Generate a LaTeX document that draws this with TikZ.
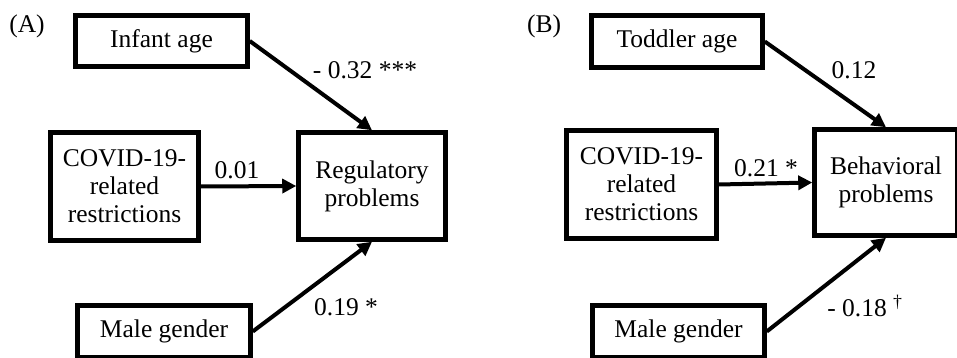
\documentclass[tikz,border=0pt]{standalone}
\usepackage{fontspec}
\setmainfont{Liberation Serif}
\usetikzlibrary{arrows.meta}
\begin{document}
\begin{tikzpicture}[x=1pt,y=-1pt,
  box/.style={draw, line width=4.5pt, inner sep=0pt, font=\fontsize{25.5}{28}\selectfont, align=center},
  lab/.style={font=\fontsize{25.5}{28}\selectfont, inner sep=0pt},
  arr/.style={line width=4pt, -{Triangle[length=14pt,width=14pt]}}]
\useasboundingbox (0,0) rectangle (957,358);
\clip (0,0) rectangle (957,358);
\fill[white] (0,0) rectangle (957,358);
% Panel A
\node[lab] (labA) at (27,26) {(A)};
\node[box, minimum width=172pt, minimum height=51pt] (infant) at (161.5,41) {Infant age};
\node[box, minimum width=148pt, minimum height=108pt] (covidA) at (124.5,186.5) {COVID-19-\\related\\restrictions};
\node[box, minimum width=147pt, minimum height=107pt] (reg) at (372,186) {Regulatory\\problems};
\node[box, minimum width=173pt, minimum height=52pt] (maleA) at (164,331.5) {Male gender};
\draw[arr] (infant.east) -- (reg.north);
\draw[arr] (covidA.east) -- (reg.west);
\draw[arr] (maleA.east) -- (reg.south);
\node[lab] (lA1) at (365,70) {- 0.32 ***};
\node[lab] (lA2) at (237,170) {0.01};
\node[lab] (lA3) at (346,307) {0.19 *};
% Panel B
\node[lab] (labB) at (544,26) {(B)};
\node[box, minimum width=171pt, minimum height=52pt] (toddler) at (677,41.5) {Toddler age};
\node[box, minimum width=150pt, minimum height=108pt] (covidB) at (641.5,184.5) {COVID-19-\\related\\restrictions};
\node[box, minimum width=143pt, minimum height=106pt] (beh) at (886,182.5) {Behavioral\\problems};
\node[box, minimum width=172pt, minimum height=52pt] (maleB) at (678.5,331.5) {Male gender};
\draw[arr] (toddler.east) -- (beh.north);
\draw[arr] (covidB.east) -- (beh.west);
\draw[arr] (maleB.east) -- (beh.south);
\node[lab] (lB1) at (854,70) {0.12};
\node[lab] (lB2) at (766,168) {0.21 *};
\node[lab] (lB3) at (865,306) {- 0.18 \textsuperscript{†}};
\end{tikzpicture}
\end{document}
